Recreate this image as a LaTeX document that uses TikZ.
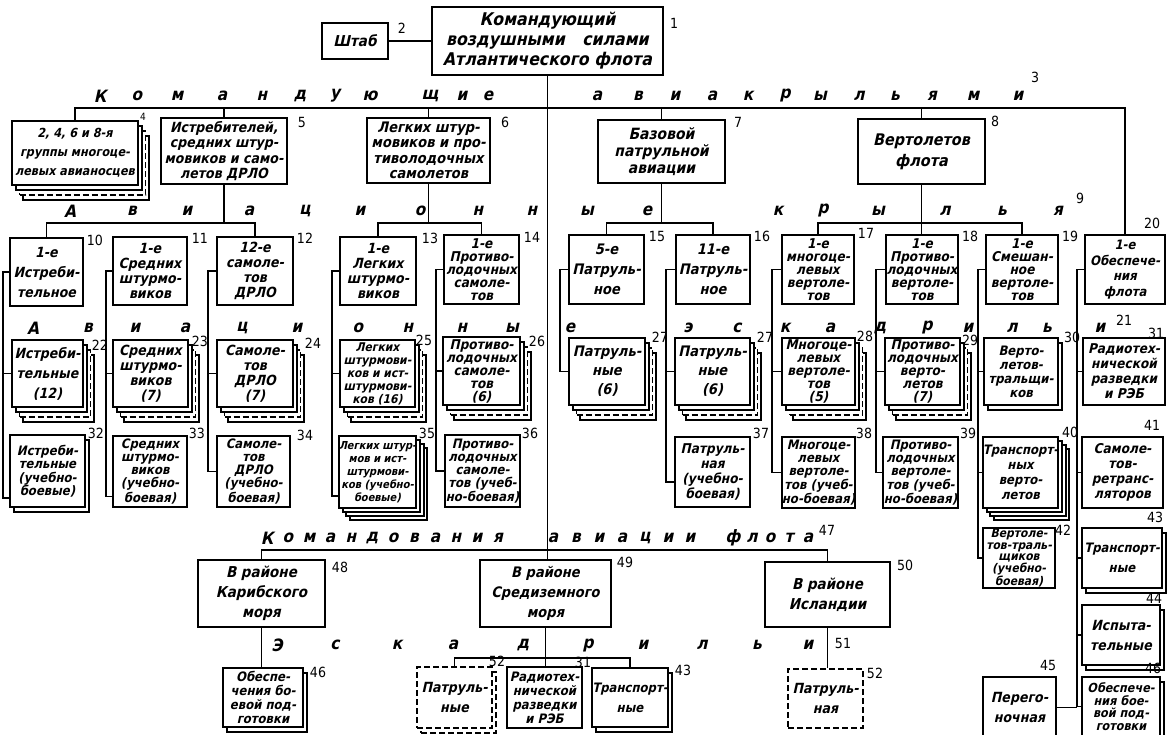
\documentclass[tikz,border=0pt]{standalone}
\usepackage{fontspec}
\newfontfamily\gost{DejaVu Sans Condensed}[FakeSlant=0.22]
\newfontfamily\numf{DejaVu Sans Condensed}
\usetikzlibrary{shadows}

% one framed box from its corners (pixel coordinates of the sheet)
\newcommand\orgbox[7][]{%
  \node[box,minimum width={#5-#3},minimum height={#6-#4},#1] (#2) at ({(#3+#5)/2},{(#4+#6)/2}) {#7};}

\tikzset{
  txt/.style 2 args={font=\gost\bfseries\fontsize{#1}{#2}\selectfont},
  box/.style={draw,fill=white,line width=1.8pt,align=center,inner sep=0pt,txt={13.5}{13}},
  dsh/.style={dash pattern=on 6pt off 3pt},
  shad/.style={general shadow={shadow xshift=4pt,shadow yshift=-5pt,fill=white,draw=black}},
  stack/.style={
    general shadow={shadow xshift=11pt,shadow yshift=-15pt,fill=white,draw=black},
    general shadow={shadow xshift=7.5pt,shadow yshift=-10pt,fill=white,draw=black,dsh},
    general shadow={shadow xshift=4pt,shadow yshift=-5pt,fill=white,draw=black}},
  stack3/.style={
    general shadow={shadow xshift=11pt,shadow yshift=-12pt,fill=white,draw=black},
    general shadow={shadow xshift=7.5pt,shadow yshift=-8pt,fill=white,draw=black},
    general shadow={shadow xshift=4pt,shadow yshift=-4pt,fill=white,draw=black}},
  num/.style={font=\numf\fontsize{14}{14}\selectfont,inner sep=0pt},
  lett/.style={txt={17}{17},inner sep=0pt}
}

\begin{document}
\begin{tikzpicture}[x=1pt,y=-1pt,line width=1.6pt]
\useasboundingbox (0,0) rectangle (1167,734);
\clip (0,0) rectangle (1167,734);

% top
\orgbox[txt={17.5}{20}]{b1}{432}{7}{663}{75}{Командующий\\воздушными\quad силами\\Атлантического флота}
\orgbox[txt={15}{15}]{b2}{322}{23}{388}{59}{Штаб}
\node[num] (n1) at (674,23) {1};
\node[num] (n2) at (402,28) {2};
\node[num] (n3) at (1035,77) {3};

% commanders of air wings
\orgbox[stack,txt={12.5}{19}]{b4}{12}{121}{138}{185}{2, 4, 6 и 8-я\\группы многоце-\\левых авианосцев}
\orgbox[txt={14}{15.5}]{b5}{161}{118}{287}{184}{Истребителей,\\средних штур-\\мовиков и само-\\летов ДРЛО}
\orgbox[txt={14.5}{15.5}]{b6}{367}{118}{490}{183}{Легких штур-\\мовиков и про-\\тиволодочных\\самолетов}
\orgbox[txt={15.5}{17}]{b7}{598}{120}{725}{183}{Базовой\\патрульной\\авиации}
\orgbox[txt={16}{21}]{b8}{858}{119}{985}{184}{Вертолетов\\флота}
\node[num,font=\numf\fontsize{10}{10}\selectfont] (n4) at (143,117) {4};
\node[num] (n5) at (302,122) {5};
\node[num] (n6) at (505,122) {6};
\node[num] (n7) at (738,122) {7};
\node[num] (n8) at (995,121) {8};
\node[num] (n9) at (1080,198) {9};

% wings
\orgbox[txt={14}{20}]{b10}{10}{238}{83}{306}{1-е\\Истреби-\\тельное}
\orgbox[txt={14}{15}]{b11}{113}{237}{187}{305}{1-е\\Средних\\штурмо-\\виков}
\orgbox[txt={14}{15}]{b12}{217}{237}{293}{305}{12-е\\самоле-\\тов\\ДРЛО}
\orgbox[txt={14}{15}]{b13}{340}{237}{416}{305}{1-е\\Легких\\штурмо-\\виков}
\orgbox{b14}{444}{235}{519}{304}{1-е\\Противо-\\лодочных\\самоле-\\тов}
\orgbox[txt={14.5}{20}]{b15}{569}{235}{644}{304}{5-е\\Патруль-\\ное}
\orgbox[txt={14.5}{20}]{b16}{676}{235}{750}{304}{11-е\\Патруль-\\ное}
\orgbox{b17}{782}{235}{854}{304}{1-е\\многоце-\\левых\\вертоле-\\тов}
\orgbox{b18}{886}{235}{958}{304}{1-е\\Противо-\\лодочных\\вертоле-\\тов}
\orgbox{b19}{986}{235}{1058}{304}{1-е\\Смешан-\\ное\\вертоле-\\тов}
\orgbox[txt={13}{15.5}]{b20}{1085}{235}{1165}{304}{1-е\\Обеспече-\\ния\\флота}
\node[num] (n10) at (95,240) {10};
\node[num] (n11) at (200,238) {11};
\node[num] (n12) at (305,238) {12};
\node[num] (n13) at (430,238) {13};
\node[num] (n14) at (532,237) {14};
\node[num] (n15) at (657,236) {15};
\node[num] (n16) at (762,236) {16};
\node[num] (n17) at (866,233) {17};
\node[num] (n18) at (970,236) {18};
\node[num] (n19) at (1070,236) {19};
\node[num] (n20) at (1152,223) {20};
\node[num] (n21) at (1124,320) {21};

% squadrons
\orgbox[stack,txt={14}{20}]{b22}{12}{340}{83}{407}{Истреби-\\тельные\\(12)}
\orgbox[stack,txt={14}{15}]{b23}{113}{340}{188}{407}{Средних\\штурмо-\\виков\\(7)}
\orgbox[stack,txt={14}{15}]{b24}{217}{340}{293}{407}{Самоле-\\тов\\ДРЛО\\(7)}
\orgbox[stack,txt={12}{13}]{b25}{340}{340}{415}{407}{Легких\\штурмови-\\ков и ист-\\штурмови-\\ков (16)}
\orgbox[stack]{b26}{443}{337}{520}{405}{Противо-\\лодочных\\самоле-\\тов\\(6)}
\orgbox[stack,txt={14.5}{19}]{b27a}{569}{338}{645}{405}{Патруль-\\ные\\(6)}
\orgbox[stack,txt={14.5}{19}]{b27b}{675}{338}{750}{405}{Патруль-\\ные\\(6)}
\orgbox[stack]{b28}{782}{338}{855}{405}{Многоце-\\левых\\вертоле-\\тов\\(5)}
\orgbox[stack]{b29}{885}{338}{960}{405}{Противо-\\лодочных\\верто-\\летов\\(7)}
\orgbox[shad,txt={13}{14}]{b30}{984}{338}{1058}{405}{Верто-\\летов-\\тральщи-\\ков}
\orgbox[txt={13.5}{15}]{b31}{1083}{338}{1165}{405}{Радиотех-\\нической\\разведки\\и РЭБ}
\node[num] (n22) at (100,345) {22};
\node[num] (n23) at (200,341) {23};
\node[num] (n24) at (313,343) {24};
\node[num] (n25) at (424,340) {25};
\node[num] (n26) at (537,341) {26};
\node[num] (n27a) at (660,337) {27};
\node[num] (n27b) at (765,337) {27};
\node[num] (n28) at (865,336) {28};
\node[num] (n29) at (970,340) {29};
\node[num] (n30) at (1072,337) {30};
\node[num] (n31) at (1156,333) {31};

\orgbox[shad,txt={13}{13.5}]{b32}{10}{435}{85}{507}{Истреби-\\тельные\\(учебно-\\боевые)}
\orgbox[txt={13}{13}]{b33}{113}{436}{187}{507}{Средних\\штурмо-\\виков\\(учебно-\\боевая)}
\orgbox[txt={13}{13}]{b34}{217}{436}{290}{507}{Самоле-\\тов\\ДРЛО\\(учебно-\\боевая)}
\orgbox[stack3,txt={11}{13}]{b35}{340}{436}{415}{508}{Легких штур-\\мов и ист-\\штурмови-\\ков (учебно-\\боевые)}
\orgbox[txt={13}{13}]{b36}{445}{435}{520}{507}{Противо-\\лодочных\\самоле-\\тов (учеб-\\но-боевая)}
\orgbox[txt={13.5}{15}]{b37}{675}{437}{750}{507}{Патруль-\\ная\\(учебно-\\боевая)}
\orgbox[txt={13}{13}]{b38}{782}{437}{855}{508}{Многоце-\\левых\\вертоле-\\тов (учеб-\\но-боевая)}
\orgbox[txt={13}{13}]{b39}{883}{437}{958}{508}{Противо-\\лодочных\\вертоле-\\тов (учеб-\\но-боевая)}
\orgbox[stack3,txt={13}{15}]{b40}{983}{437}{1058}{508}{Транспорт-\\ных\\верто-\\летов}
\orgbox[txt={13.5}{15}]{b41}{1082}{437}{1163}{508}{Самоле-\\тов-\\ретранс-\\ляторов}
\orgbox[txt={12}{11.8}]{b42}{983}{528}{1055}{588}{Вертоле-\\тов-траль-\\щиков\\(учебно-\\боевая)}
\orgbox[shad,txt={13}{20}]{b43}{1082}{528}{1162}{588}{Транспорт-\\ные}
\orgbox[shad,txt={14}{20}]{b44}{1082}{605}{1160}{665}{Испыта-\\тельные}
\orgbox[txt={14}{20}]{b45}{983}{677}{1056}{738}{Перего-\\ночная}
\orgbox[shad,txt={12.5}{12.5}]{b46}{1082}{677}{1160}{736}{Обеспече-\\ния бое-\\вой под-\\готовки}
\node[num] (n32) at (96,433) {32};
\node[num] (n33) at (197,433) {33};
\node[num] (n34) at (305,435) {34};
\node[num] (n35) at (427,433) {35};
\node[num] (n36) at (530,433) {36};
\node[num] (n37) at (761,433) {37};
\node[num] (n38) at (864,433) {38};
\node[num] (n39) at (968,433) {39};
\node[num] (n40) at (1070,432) {40};
\node[num] (n41) at (1152,425) {41};
\node[num] (n42) at (1063,530) {42};
\node[num] (n43) at (1155,517) {43};
\node[num] (n44) at (1154,598) {44};
\node[num] (n45) at (1048,665) {45};
\node[num] (n46) at (1153,668) {46};

% fleet air commands
\orgbox[txt={15}{20}]{b48}{198}{560}{325}{627}{В районе\\Карибского\\моря}
\orgbox[txt={14.5}{20}]{b49}{480}{560}{611}{627}{В районе\\Средиземного\\моря}
\orgbox[txt={15}{20}]{b50}{765}{562}{890}{627}{В районе\\Исландии}
\orgbox[shad,txt={13}{14}]{b46b}{223}{668}{303}{727}{Обеспе-\\чения бо-\\евой под-\\готовки}
\orgbox[dsh,shad,txt={14}{20}]{b52a}{417}{667}{492}{728}{Патруль-\\ные}
\orgbox[txt={13}{14}]{b31b}{507}{667}{582}{728}{Радиотех-\\нической\\разведки\\и РЭБ}
\orgbox[shad,txt={13}{20}]{b43b}{592}{668}{668}{727}{Транспорт-\\ные}
\orgbox[dsh,txt={14}{20}]{b52b}{788}{669}{863}{728}{Патруль-\\ная}
\node[num] (n47) at (827,530) {47};
\node[num] (n48) at (340,567) {48};
\node[num] (n49) at (625,562) {49};
\node[num] (n50) at (905,565) {50};
\node[num] (n51) at (843,643) {51};
\node[num] (n46b) at (318,672) {46};
\node[num] (n52a) at (497,661) {52};
\node[num] (n31b) at (583,662) {31};
\node[num] (n43b) at (683,670) {43};
\node[num] (n52b) at (875,673) {52};

% spaced words along the bars
\foreach \x/\c [count=\i] in {100/К,137/о,177/м,222/а,262/н,300/д,335/у,370/ю,430/щ,462/и,488/е,
  597/а,638/в,675/и,712/а,748/к,785/р,820/ы,859/л,895/ь,932/я,973/м,1018/и}
  \node[lett] (ra\i) at (\x,96) {\c};
\foreach \x/\c [count=\i] in {70/А,132/в,187/и,249/а,305/ц,360/и,420/о,478/н,532/н,587/ы,647/е,
  778/к,823/р,878/ы,945/л,1002/ь,1058/я}
  \node[lett] (rb\i) at (\x,211) {\c};
\foreach \x/\c [count=\i] in {33/А,88/в,135/и,185/а,242/ц,297/и,358/о,408/н,462/н,512/ы,570/е,
  688/э,737/с,785/к,830/а,880/д,927/р,968/и,1012/л,1047/ь,1100/и}
  \node[lett] (rc\i) at (\x,328) {\c};
\foreach \x/\c [count=\i] in {267/К,288/о,309/м,330/а,351/н,372/д,393/о,414/в,435/а,456/н,477/и,498/я,
  553/а,576/в,599/и,622/а,645/ц,668/и,690/и,733/ф,752/л,770/о,789/т,808/а}
  \node[lett] (rd\i) at (\x,538) {\c};
\foreach \x/\c [count=\i] in {277/Э,335/с,397/к,453/а,523/д,588/р,643/и,702/л,757/ь,808/и}
  \node[lett] (re\i) at (\x,645) {\c};

% connectors, top
\coordinate (r1) at (0,108);
\draw (b2.east) -- (b2.east -| b1.west);
\draw (b1.south) -- (b1.south |- b49.north);
\draw (b4.north) -- (b4.north |- r1) -| (b20.north);
\draw (b5.north) -- (b5.north |- r1);
\draw (b6.north) -- (b6.north |- r1);
\draw (b7.north) -- (b7.north |- r1);
\draw (b8.north) -- (b8.north |- r1);

% connectors, wings
\coordinate (r2) at (0,223);
\draw (b5.south) -- (b5.south |- r2);
\draw (b10.north) -- (b10.north |- r2) -| (b12.north);
\draw (b6.south) -- (b6.south |- r2);
\draw (b13.north) -- (b13.north |- r2) -| (b14.north);
\draw (b7.south) -- (b7.south |- r2);
\draw (b15.north) -- (b15.north |- r2) -| (b16.north);
\draw (b8.south) -- (b8.south |- b18.north);
\draw (b17.north) -- (b17.north |- r2) -| (b19.north);

% connectors, squadrons
\draw (b10.west) -- ++(-6,0) coordinate (s10) |- ([yshift=-27pt]b32.west);
\draw (s10) |- (b22.west);
\draw (b11.west) -- ++(-6,0) coordinate (s11) |- ([yshift=-25pt]b33.west);
\draw (s11) |- (b23.west);
\draw (b12.west) -- ++(-8,0) coordinate (s12) |- (b34.west);
\draw (s12) |- (b24.west);
\draw (b13.west) -- ++(-7,0) coordinate (s13) |- ([yshift=-24pt]b35.west);
\draw (s13) |- (b25.west);
\draw (b14.west) -- ++(-7,0) coordinate (s14) |- (b36.west);
\draw (s14) |- (b26.west);
\draw (b15.west) -- ++(-8,0) |- (b27a.west);
\draw (b16.west) -- ++(-9,0) coordinate (s16) |- ([yshift=-10pt]b37.west);
\draw (s16) |- (b27b.west);
\draw (b17.west) -- ++(-9,0) coordinate (s17) |- (b38.west);
\draw (s17) |- (b28.west);
\draw (b18.west) -- ++(-9,0) coordinate (s18) |- (b39.west);
\draw (s18) |- (b29.west);
\draw (b19.west) -- ++(-7,0) coordinate (s19) |- (b42.west);
\draw (s19) |- (b30.west);
\draw (s19) |- (b40.west);
\draw (b20.west) -- ++(-7,0) coordinate (s20) |- (b46.west);
\draw (s20) |- (b31.west);
\draw (s20) |- (b41.west);
\draw (s20) |- (b43.west);
\draw (s20) |- (b44.west);
\draw (b45.east) -- (s20 |- b45.east);

% connectors, bottom
\coordinate (r4) at (0,550);
\coordinate (r5) at (0,658);
\draw (b48.north) -- (b48.north |- r4) -| (b50.north);
\draw (b48.south) -- (b48.south |- b46b.north);
\draw (b49.south) -- (b49.south |- b31b.north);
\draw (b52a.north) -- (b52a.north |- r5) -| (b43b.north);
\draw (b50.south) -- (b50.south |- b52b.north);

\end{tikzpicture}
\end{document}
